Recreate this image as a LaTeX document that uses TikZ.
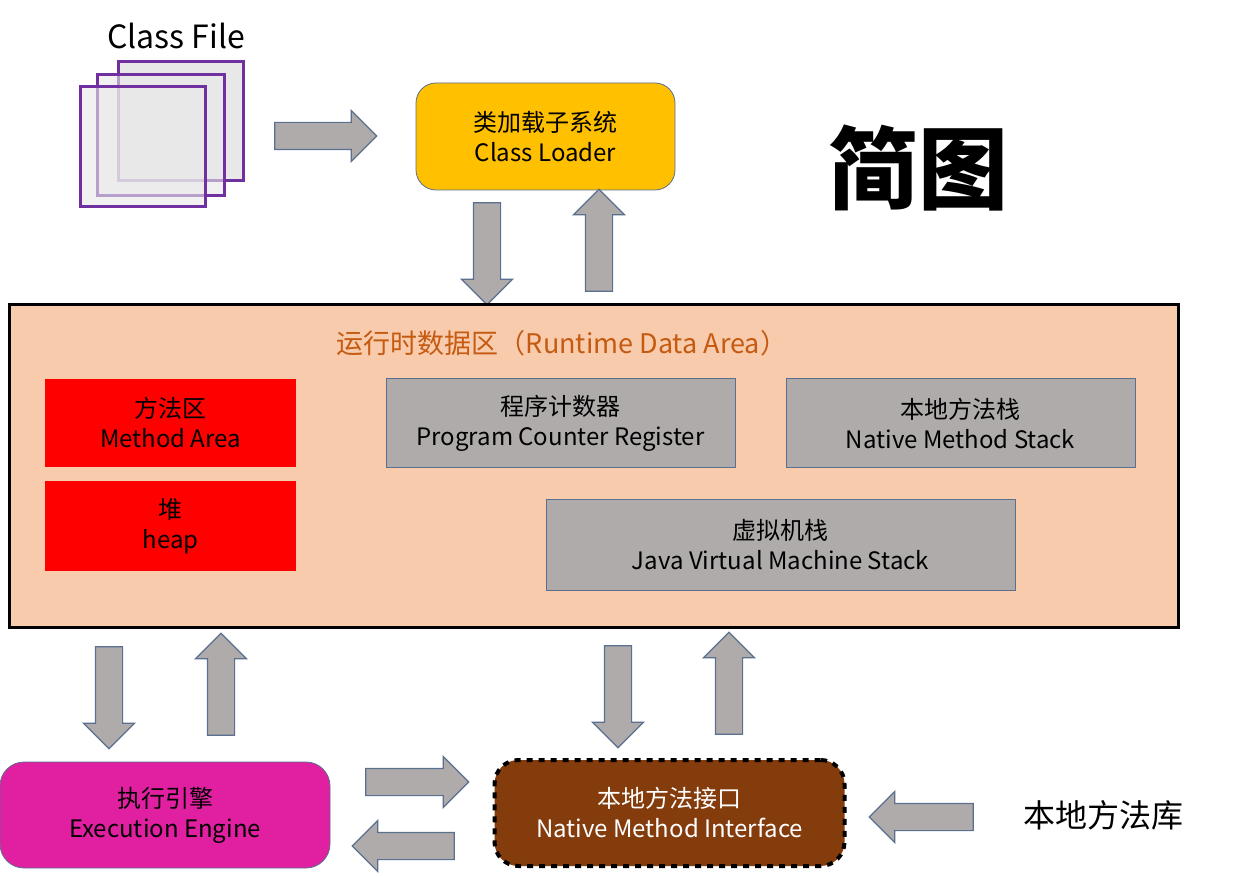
\documentclass[tikz,border=0pt]{standalone}
\usepackage{fontspec}
\setmainfont{Noto Sans CJK SC}
\usetikzlibrary{shapes.arrows}
\definecolor{ag}{HTML}{AFABAB}
\definecolor{ab}{HTML}{5B6F8F}
\definecolor{rt}{HTML}{F8CBAD}
\definecolor{ttl}{HTML}{C55A11}
\definecolor{pur}{HTML}{7030A0}
\begin{document}
\begin{tikzpicture}[x=0.5pt,y=-0.5pt,
 barr/.style={single arrow,draw=ab,fill=ag,line width=0.6pt,inner sep=6.5pt,minimum width=25pt,single arrow head extend=6pt,single arrow tip angle=90,anchor=center},
 gbox/.style={draw=ab,fill=ag,line width=0.5pt,align=center,font=\fontsize{12}{15}\selectfont},
 rbox/.style={fill=red,align=center,font=\fontsize{12}{15}\selectfont},
 sq/.style={draw=pur,line width=1.5pt,fill=gray!18}]
\useasboundingbox (0,0) rectangle (1247,876);
\node[font=\fontsize{16}{18}\selectfont] (cf) at (176,36) {Class File};
\draw[sq] (118,62) rectangle (243,181);
\draw[sq,fill opacity=0.6] (97,75) rectangle (224,196);
\draw[sq,fill opacity=0.6] (80,87) rectangle (205,207);
\node[barr,minimum height=51pt] (a1) at (319,136) {};
\node[draw=ab,fill=orange!80!yellow,fill={rgb,255:red,255;green,192;blue,0},rounded corners=10pt,minimum width=129.5pt,minimum height=53.5pt,align=center,font=\fontsize{12}{15}\selectfont] (cl) at (545.5,136.5) {类加载子系统\\Class Loader};
\node[font=\bfseries\fontsize{45}{50}\selectfont] (jt) at (918,168) {简图};
\node[barr,minimum height=51pt,shape border rotate=270] (a2) at (487,247) {};
\node[barr,minimum height=51pt,shape border rotate=90] (a3) at (599,247) {};
\draw[fill=rt,line width=1.5pt] (9,305) rectangle (1178,627);
\node[text=ttl,font=\fontsize{13.5}{16}\selectfont] (rta) at (562,343) {运行时数据区（Runtime Data Area）};
\node[rbox,minimum width=125.5pt,minimum height=44pt] (ma) at (170.5,423) {方法区\\Method Area};
\node[rbox,minimum width=125.5pt,minimum height=45pt] (hp) at (170.5,526) {堆\\heap};
\node[gbox,minimum width=174.5pt,minimum height=44.5pt] (pc) at (560.5,423.5) {程序计数器\\Program Counter Register};
\node[gbox,minimum width=174.5pt,minimum height=44.5pt] (ns) at (960.5,423.5) {本地方法栈\\Native Method Stack};
\node[gbox,minimum width=234.5pt,minimum height=45pt] (jv) at (780.5,545) {虚拟机栈\\Java Virtual Machine Stack};
\node[barr,minimum height=51pt,shape border rotate=270] (a4) at (109,691) {};
\node[barr,minimum height=51pt,shape border rotate=90] (a5) at (221,691) {};
\node[barr,minimum height=51pt,shape border rotate=270] (a6) at (618,690) {};
\node[barr,minimum height=51pt,shape border rotate=90] (a7) at (729,690) {};
\node[draw=ab,fill={rgb,255:red,224;green,32;blue,160},rounded corners=12pt,minimum width=165pt,minimum height=53pt,align=center,font=\fontsize{12}{15}\selectfont] (ee) at (165,815) {执行引擎\\Execution Engine};
\node[draw=black,dashed,line width=2pt,fill={rgb,255:red,132;green,60;blue,12},rounded corners=12pt,minimum width=175pt,minimum height=53pt,align=center,text=white,font=\fontsize{12}{15}\selectfont] (nmi) at (669.5,813) {本地方法接口\\Native Method Interface};
\node[barr,minimum height=51.5pt] (a8) at (410.5,782) {};
\node[barr,minimum height=51pt,shape border rotate=180] (a9) at (410,846) {};
\node[barr,minimum height=52pt,shape border rotate=180] (a10) at (928,817) {};
\node[font=\fontsize{16}{18}\selectfont] (lib) at (1103,815) {本地方法库};
\end{tikzpicture}
\end{document}
